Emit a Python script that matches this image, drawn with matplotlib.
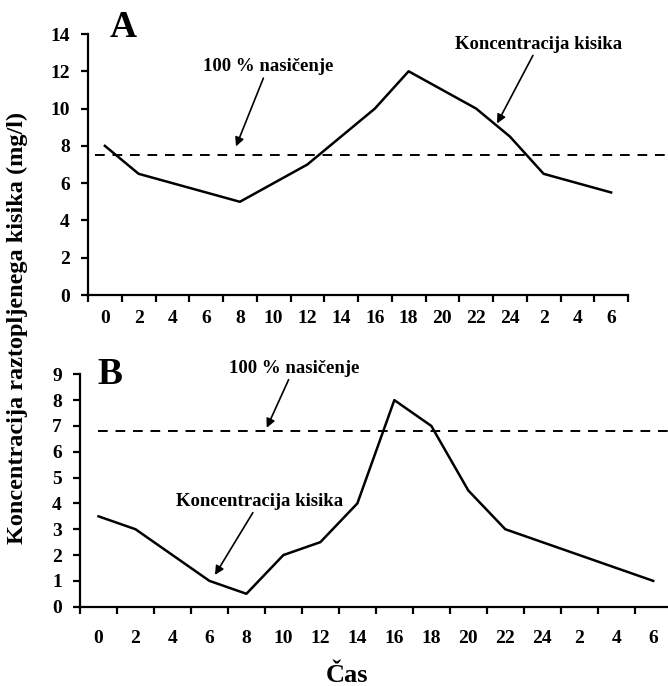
import numpy as np
import matplotlib.pyplot as plt

plt.rcParams['font.family'] = ['Liberation Serif', 'DejaVu Serif']
plt.rcParams['font.weight'] = 'bold'

# casovne oznake (ura)
ure = ['0', '2', '4', '6', '8', '10', '12', '14', '16', '18', '20', '22', '24', '2', '4', '6']

# A: koncentracija kisika (mg/l)
kisik_a = [8, 6.5, 6.0, 5.5, 5, 6, 7, 8.5, 10, 12, 11, 10, 8.5, 6.5, 6.0, 5.5]
nasicenje_a = 7.5

# B: koncentracija kisika (mg/l)
kisik_b = [3.5, 3, 2, 1, 0.5, 2, 2.5, 4, 8, 7, 4.5, 3, 2.5, 2, 1.5, 1]
nasicenje_b = 6.8

W, H = 668, 686
fig = plt.figure(figsize=(W / 100, H / 100), dpi=100)

ax_a = fig.add_axes([88 / W, 1 - 295 / H, 540 / W, 261 / H])
ax_b = fig.add_axes([80 / W, 1 - 606.7 / H, 588 / W, 232.4 / H])

arrow = dict(arrowstyle='-|>', lw=1.2, color='black', mutation_scale=13,
             shrinkA=0, shrinkB=0)


def oblikuj(ax, xmax, nticks, ymax, pad_x):
    x = np.arange(len(ure))
    ax.set_xlim(-0.5, xmax)
    ax.set_ylim(0, ymax)
    for s in ['top', 'right']:
        ax.spines[s].set_visible(False)
    for s in ['left', 'bottom']:
        ax.spines[s].set_linewidth(1.6)
    ax.set_xticks(np.arange(nticks) - 0.5)
    ax.set_xticklabels([])
    ax.set_xticks(x, minor=True)
    ax.set_xticklabels(ure, minor=True)
    ax.set_yticks(np.arange(0, ymax + 1, 1 if ymax < 10 else 2))
    ax.tick_params(which='major', direction='out', length=5, width=1.6, labelsize=14)
    ax.tick_params(axis='y', pad=8)
    ax.tick_params(axis='x', which='minor', length=0, pad=pad_x, labelsize=14)


x = np.arange(len(ure))

# ---- A ----
ax_a.plot(x, kisik_a, color='black', lw=1.8)
ax_a.plot([-0.3, 16.8], [nasicenje_a, nasicenje_a], color='black', lw=1.4,
          ls=(0, (5, 4)), clip_on=False)
oblikuj(ax_a, 15.5, 17, 14, 11)
ax_a.text(0.54, 14.35, 'A', fontsize=27, ha='center', va='center')
ax_a.annotate('100 % nasičenje', xy=(3.885, 7.97), xytext=(4.83, 11.78),
              ha='center', va='bottom', fontsize=13.5, arrowprops=arrow)
ax_a.annotate('Koncentracija kisika', xy=(11.62, 9.2), xytext=(12.86, 13.0),
              ha='center', va='bottom', fontsize=13.5, arrowprops=arrow)

# ---- B ----
ax_b.plot(x, kisik_b, color='black', lw=1.8)
ax_b.plot([0, 15.6], [nasicenje_b, nasicenje_b], color='black', lw=1.4,
          ls=(0, (5, 4)), clip_on=False)
oblikuj(ax_b, 15.4, 16, 9, 17)
ax_b.text(0.31, 8.98, 'B', fontsize=27, ha='center', va='center')
ax_b.annotate('100 % nasičenje', xy=(4.55, 6.93), xytext=(5.28, 8.9),
              ha='center', va='bottom', fontsize=13.5, arrowprops=arrow)
ax_b.annotate('Koncentracija kisika', xy=(3.15, 1.23), xytext=(4.36, 3.75),
              ha='center', va='bottom', fontsize=13.5, arrowprops=arrow)

fig.text(17 / W, 1 - 328 / H, 'Koncentracija raztopljenega kisika (mg/l)',
         rotation=90, ha='center', va='center', fontsize=17.5)
fig.text(347 / W, 1 - 675 / H, 'Čas', ha='center', va='center', fontsize=19)

fig.savefig('out.png', dpi=100)
